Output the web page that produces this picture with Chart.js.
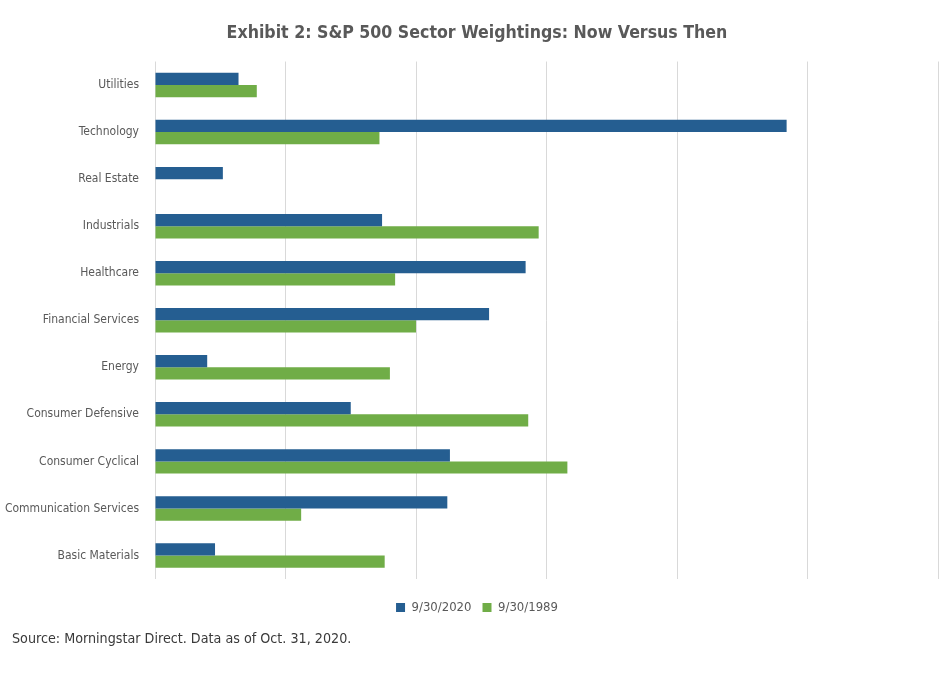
<!DOCTYPE html>
<html>
<head>
<meta charset="utf-8">
<script src="https://cdn.jsdelivr.net/npm/chart.js@4"></script>
<style>
    body { margin: 0; background: #fff; }
    #wrap { position: relative; width: 952px; height: 690px; }
    #source {
        position: absolute; left: 12px; top: 628px;
        font: 14.2px "DejaVu Sans Condensed", sans-serif;
        line-height: 20px; color: #3a3a3a;
    }
</style>
</head>
<body>
<div id="wrap">
    <canvas id="myChart" width="952" height="690"></canvas>
    <div id="source">Source: Morningstar Direct. Data as of Oct. 31, 2020.</div>
</div>
<script>
const sectors = ["Utilities", "Technology", "Real Estate", "Industrials", "Healthcare",
    "Financial Services", "Energy", "Consumer Defensive", "Consumer Cyclical",
    "Communication Services", "Basic Materials"];
const weights2020 = [3.2, 24.2, 2.6, 8.7, 14.2, 12.8, 2.0, 7.5, 11.3, 11.2, 2.3];
const weights1989 = [3.9, 8.6, 0, 14.7, 9.2, 10.0, 9.0, 14.3, 15.8, 5.6, 8.8];
const seriesNames = ["9/30/2020", "9/30/1989"];

const font = "'DejaVu Sans Condensed', sans-serif";
const gray = "#595959";

// let long sector names run past the left padding instead of being clipped
const unclipLabels = {
    id: "unclipLabels",
    afterLayout(chart) {
        chart.scales.y.left = 0;
    }
};

const ctx = document.getElementById("myChart").getContext("2d");
new Chart(ctx, {
    type: "bar",
    data: {
        labels: sectors,
        datasets: [
            { label: seriesNames[0], data: weights2020, backgroundColor: "#255e91" },
            { label: seriesNames[1], data: weights1989, backgroundColor: "#70ad47" }
        ]
    },
    options: {
        indexAxis: "y",
        responsive: false,
        animation: false,
        categoryPercentage: 0.52,
        barPercentage: 1.0,
        layout: { padding: { left: 16, right: 14, top: 0, bottom: 66 } },
        scales: {
            x: {
                min: 0,
                max: 30,
                ticks: { display: false, stepSize: 5 },
                grid: { color: "#d9d9d9", drawTicks: false },
                border: { display: false },
                afterFit: s => { s.height = 11; }
            },
            y: {
                grid: { display: false, drawTicks: false },
                border: { display: false },
                ticks: { color: gray, padding: 16, font: { family: font, size: 12 } },
                afterFit: s => { s.width = 139; }
            }
        },
        plugins: {
            title: {
                display: true,
                text: "Exhibit 2: S&P 500 Sector Weightings: Now Versus Then",
                color: gray,
                font: { family: font, size: 17.6, weight: "bold", lineHeight: 1.2 },
                padding: { top: 23, bottom: 17.4 }
            },
            legend: {
                position: "bottom",
                labels: {
                    color: gray,
                    boxWidth: 9,
                    boxHeight: 9,
                    padding: 11,
                    font: { family: font, size: 13 }
                }
            },
            tooltip: { enabled: false }
        }
    },
    plugins: [unclipLabels]
});
</script>
</body>
</html>
